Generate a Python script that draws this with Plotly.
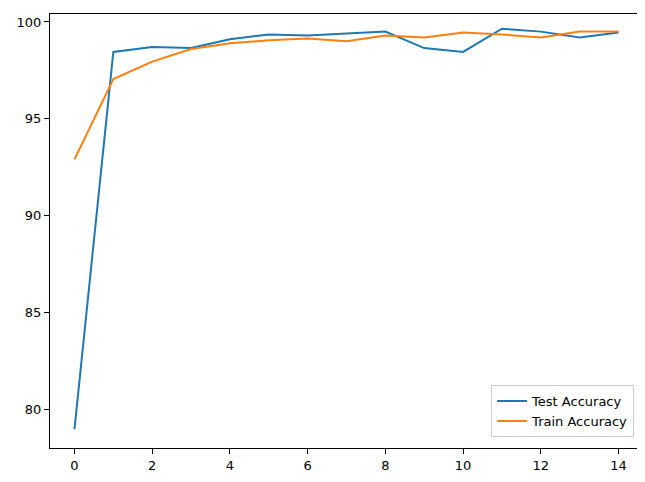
import plotly.graph_objects as go

epochs = list(range(15))
test_acc = [78.97, 98.45, 98.7, 98.65, 99.1, 99.35, 99.3, 99.4, 99.5, 98.65, 98.45, 99.65, 99.5, 99.2, 99.45]
train_acc = [92.9, 97.05, 97.95, 98.6, 98.9, 99.05, 99.15, 99.0, 99.3, 99.2, 99.45, 99.35, 99.2, 99.5, 99.5]

fig = go.Figure()
fig.add_trace(go.Scatter(x=epochs, y=test_acc, mode="lines", name="Test Accuracy",
                         line=dict(color="#1f77b4", width=2)))
fig.add_trace(go.Scatter(x=epochs, y=train_acc, mode="lines", name="Train Accuracy",
                         line=dict(color="#ff7f0e", width=2)))
ax = dict(showgrid=False, zeroline=False, showline=True, mirror=True, linecolor="black",
          linewidth=1, ticks="outside", ticklen=5, tickcolor="black", automargin=False,
          tickfont=dict(size=13, color="black"))
fig.update_layout(
    width=645, height=482, plot_bgcolor="white", paper_bgcolor="white",
    margin=dict(l=42, r=10, t=6, b=42),
    font=dict(family="DejaVu Sans", color="black"),
    xaxis=dict(range=[-0.63, 14.63], tickvals=[0, 2, 4, 6, 8, 10, 12, 14], **ax),
    yaxis=dict(range=[77.99, 100.41], tickvals=[80, 85, 90, 95, 100], **ax),
    legend=dict(x=0.985, y=0.025, xanchor="right", yanchor="bottom",
                bordercolor="#cccccc", borderwidth=1, font=dict(size=13),
                bgcolor="rgba(255,255,255,0.8)"),
)
fig.write_html("out.html")
